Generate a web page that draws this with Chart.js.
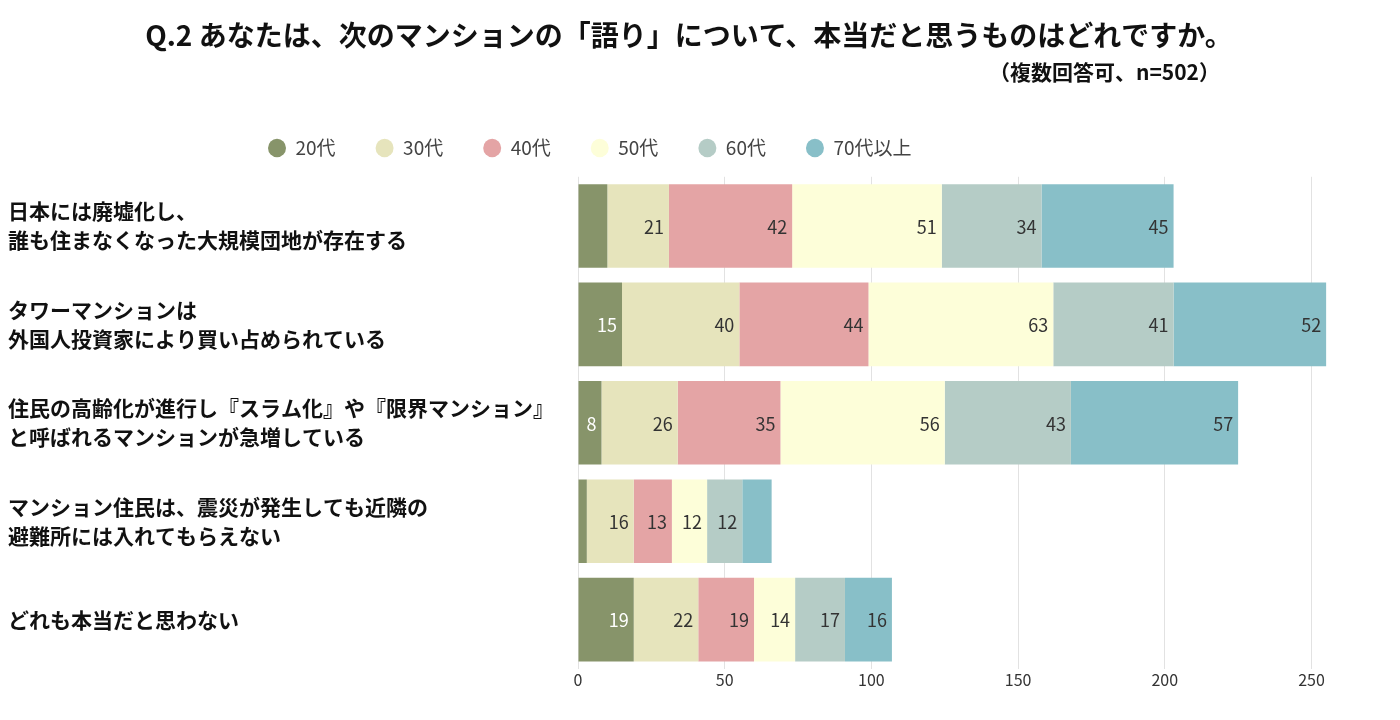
<!DOCTYPE html>
<html lang="ja">
<head>
<meta charset="utf-8">
<script src="https://cdn.jsdelivr.net/npm/chart.js@4/dist/chart.umd.min.js"></script>
<style>
  html, body { margin: 0; padding: 0; background: #fff; }
  #wrap { width: 1400px; height: 720px; }
</style>
</head>
<body>
<div id="wrap"><canvas id="chart" width="1400" height="720"></canvas></div>
<script>
const titleText = 'Q.2 あなたは、次のマンションの「語り」について、本当だと思うものはどれですか。';
const subtitleText = '（複数回答可、n=502）';
const categories = [
    ['日本には廃墟化し、', '誰も住まなくなった大規模団地が存在する'],
    ['タワーマンションは', '外国人投資家により買い占められている'],
    ['住民の高齢化が進行し『スラム化』や『限界マンション』', 'と呼ばれるマンションが急増している'],
    ['マンション住民は、震災が発生しても近隣の', '避難所には入れてもらえない'],
    'どれも本当だと思わない'
];
const ageGroups = ['20代', '30代', '40代', '50代', '60代', '70代以上'];
const age20s = [10, 15, 8, 3, 19];
const age30s = [21, 40, 26, 16, 22];
const age40s = [42, 44, 35, 13, 19];
const age50s = [51, 63, 56, 12, 14];
const age60s = [34, 41, 43, 12, 17];
const age70plus = [45, 52, 57, 10, 16];
const xTicks = [0, 50, 100, 150, 200, 250];
// segments the original leaves without a number: [series, row]
const unlabeled = [[0, 0], [0, 3], [5, 3]];

const colors = ['#87946a', '#e6e4bc', '#e4a4a5', '#fdfed9', '#b5ccc6', '#88bfc8'];
const labelColors = ['#ffffff', '#333333', '#333333', '#333333', '#333333', '#333333'];
const FONT = '"Noto Sans CJK JP", "Noto Sans", sans-serif';

const seriesValues = [age20s, age30s, age40s, age50s, age60s, age70plus];

const segmentLabels = {
    id: 'segmentLabels',
    afterDatasetsDraw(chart) {
        const ctx = chart.ctx;
        ctx.save();
        ctx.font = '18px ' + FONT;
        ctx.textAlign = 'right';
        ctx.textBaseline = 'middle';
        chart.data.datasets.forEach((ds, di) => {
            chart.getDatasetMeta(di).data.forEach((bar, i) => {
                if (unlabeled.some(([d, r]) => d === di && r === i)) return;
                ctx.fillStyle = labelColors[di];
                ctx.fillText(String(ds.data[i]), bar.x - 5, bar.y + 1);
            });
        });
        ctx.restore();
    }
};

// move title / subtitle / legend to where the original has them
const placeBoxes = {
    id: 'placeBoxes',
    afterLayout(chart) {
        chart.boxes.forEach(b => {
            if (b === chart.legend) { b.left = 228; b.top = 98.5; }
            else if (b === chart.titleBlock) { b.left = 0; b.right = 1378; }
            else if (b.options && b.options.text === subtitleText) { b.right = 1220; }
        });
    }
};

new Chart(document.getElementById('chart'), {
    type: 'bar',
    data: {
        labels: categories,
        datasets: ageGroups.map((name, i) => ({
            label: name,
            data: seriesValues[i],
            backgroundColor: colors[i],
            borderWidth: 0,
            barPercentage: 0.85,
            categoryPercentage: 1
        }))
    },
    options: {
        indexAxis: 'y',
        responsive: false,
        animation: false,
        layout: { padding: { left: 8, right: 68, top: 0, bottom: 28 } },
        scales: {
            x: {
                stacked: true, min: 0, max: 257,
                afterBuildTicks: s => { s.ticks = xTicks.map(v => ({ value: v })); },
                grid: { color: '#e2e2e2', drawTicks: false },
                border: { display: false },
                ticks: { color: '#333', padding: 2, font: { size: 16, family: FONT } }
            },
            y: {
                stacked: true,
                grid: { display: false },
                border: { display: false },
                afterFit: s => { s.width = 570; },
                ticks: { crossAlign: 'far', color: '#111', font: { size: 21, weight: 'bold', family: FONT, lineHeight: 1.38 } }
            }
        },
        plugins: {
            title: {
                display: true, text: titleText, color: '#111',
                font: { size: 28, weight: 'bold', family: FONT, lineHeight: 1.2 },
                padding: { top: 19, bottom: 4 }
            },
            subtitle: {
                display: true, text: subtitleText, align: 'end', color: '#111',
                font: { size: 21, weight: 'bold', family: FONT, lineHeight: 1.2 },
                padding: { top: 3, bottom: 23 }
            },
            legend: {
                align: 'start',
                labels: {
                    usePointStyle: true, pointStyle: 'circle', pointStyleWidth: 18, boxHeight: 13,
                    padding: 40, color: '#444', font: { size: 19, family: FONT }
                }
            },
            tooltip: { enabled: false }
        }
    },
    plugins: [segmentLabels, placeBoxes]
});
</script>
</body>
</html>
